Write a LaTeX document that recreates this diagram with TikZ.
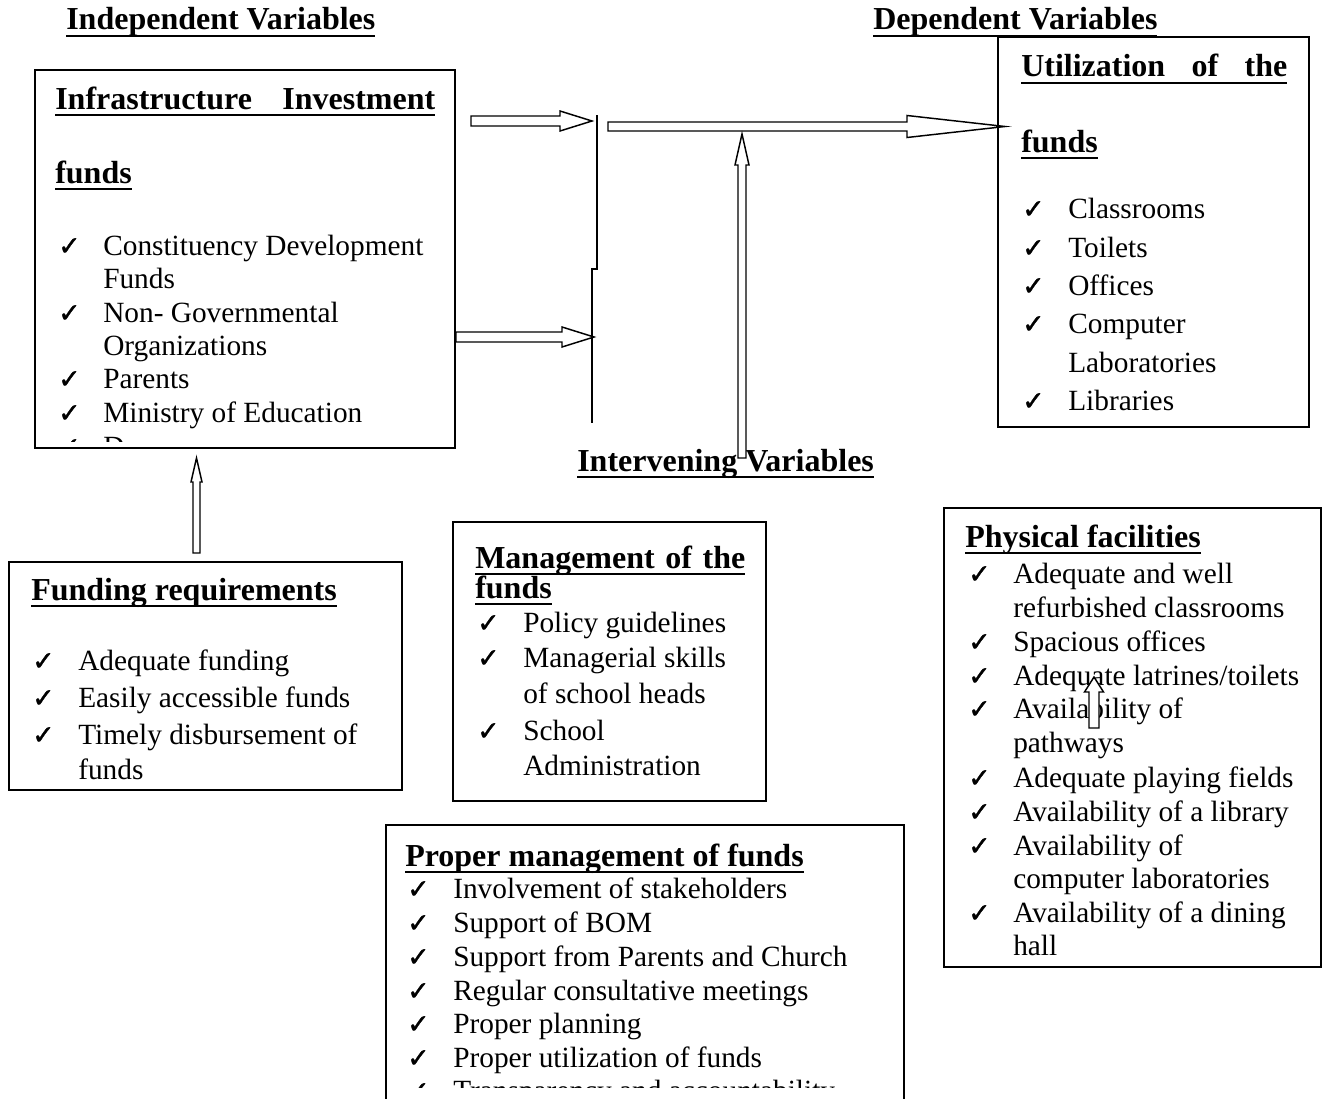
\documentclass[tikz,border=0pt]{standalone}
\usepackage{fontspec}
\setmainfont{Liberation Serif}
\newfontfamily\ckfam[FakeBold=1.5]{DejaVu Sans}
\newcommand\txfont{\fontsize{22}{26}\selectfont}
\newcommand\hdfont{\fontsize{24}{28}\selectfont\bfseries}
\newcommand\ckfont{\ckfam\fontsize{20}{20}\selectfont}
\newcommand\ulb[1]{\setbox0=\hbox{#1}\rlap{\rule[-5.6pt]{\wd0}{1.7pt}}\box0}
\newcommand\ckat[3]{\node[ck] (#1) at (#2,#3) {✓};}
% right block arrow: x1, x2, y, shaft half, head half, head length
\newcommand\rarr[6]{\draw[blk] (#1,#3-#4) -- (#2-#6,#3-#4) -- (#2-#6,#3-#5) -- (#2,#3) -- (#2-#6,#3+#5) -- (#2-#6,#3+#4) -- (#1,#3+#4) -- cycle;}
% up block arrow: x, ybottom, ytip, shaft half, head half, head length
\newcommand\uarr[6]{\draw[blk] (#1-#4,#2) -- (#1-#4,#3+#6) -- (#1-#5,#3+#6) -- (#1,#3) -- (#1+#5,#3+#6) -- (#1+#4,#3+#6) -- (#1+#4,#2) -- cycle;}
\tikzset{
  box/.style={draw, line width=1.3pt},
  hd/.style={anchor=base west, inner sep=0pt, font=\hdfont},
  tx/.style={anchor=base west, inner sep=0pt, font=\txfont},
  ck/.style={anchor=base west, inner sep=0pt, font=\ckfont},
  blk/.style={draw, fill=white, line width=1.1pt, line join=miter},
  vline/.style={draw, line width=1.1pt}
}
\begin{document}
\begin{tikzpicture}[x={(0.75pt,0)}, y={(0,-0.75pt)}]
\useasboundingbox (0,0) rectangle (1324,1099);
\fill[white] (0,0) rectangle (1324,1099);

% headings
\node[hd] (hind) at (66,30) {\ulb{Independent Variables}};
\node[hd] (hdep) at (873,30) {\ulb{Dependent Variables}};
\node[hd] (hint) at (577,471) {\ulb{Intervening Variables}};

% Box 1: Infrastructure Investment funds
\draw[box] (35,70) rectangle (455,448);
\node[hd] (b1t1) at (55,109) {\ulb{\makebox[285pt][s]{Infrastructure Investment}}};
\node[hd] (b1t2) at (55,183) {\ulb{funds}};
\ckat{b1c1}{58}{255}
\node[tx] (b1i1) at (103,255) {Constituency Development};
\node[tx] (b1i1b) at (103,288) {Funds};
\ckat{b1c2}{58}{322}
\node[tx] (b1i2) at (103,322) {Non- Governmental};
\node[tx] (b1i2b) at (103,355) {Organizations};
\ckat{b1c3}{58}{388}
\node[tx] (b1i3) at (103,388) {Parents};
\ckat{b1c4}{58}{422}
\node[tx] (b1i4) at (103,422) {Ministry of Education};
\begin{scope}
  \clip (35,70) rectangle (455,441);
  \ckat{b1c5}{58}{456}
  \node[tx] (b1i5) at (103,456) {Donors};
\end{scope}

% Box 2: Utilization of the funds
\draw[box] (998,37) rectangle (1309,427);
\node[hd] (b2t1) at (1021,77) {\ulb{\makebox[199.5pt][s]{Utilization of the}}};
\node[hd] (b2t2) at (1021,152) {\ulb{funds}};
\ckat{b2c1}{1022}{218}
\node[tx] (b2i1) at (1068,218) {Classrooms};
\ckat{b2c2}{1022}{257}
\node[tx] (b2i2) at (1068,257) {Toilets};
\ckat{b2c3}{1022}{295}
\node[tx] (b2i3) at (1068,295) {Offices};
\ckat{b2c4}{1022}{333}
\node[tx] (b2i4) at (1068,333) {Computer};
\node[tx] (b2i4b) at (1068,372) {Laboratories};
\ckat{b2c5}{1022}{410}
\node[tx] (b2i5) at (1068,410) {Libraries};

% Funding requirements
\draw[box] (9,562) rectangle (402,790);
\node[hd] (b3t) at (31,600) {\ulb{Funding requirements}};
\ckat{b3c1}{32}{670}
\node[tx] (b3i1) at (78,670) {Adequate funding};
\ckat{b3c2}{32}{707}
\node[tx] (b3i2) at (78,707) {Easily accessible funds};
\ckat{b3c3}{32}{744}
\node[tx] (b3i3) at (78,744) {Timely disbursement of};
\node[tx] (b3i3b) at (78,779) {funds};

% Management of the funds
\draw[box] (453,522) rectangle (766,801);
\node[hd] (b4t1) at (475,568) {\ulb{\makebox[202.5pt][s]{Management of the}}};
\node[hd] (b4t2) at (475,598) {\ulb{funds}};
\ckat{b4c1}{477}{632}
\node[tx] (b4i1) at (523,632) {Policy guidelines};
\ckat{b4c2}{477}{667}
\node[tx] (b4i2) at (523,667) {Managerial skills};
\node[tx] (b4i2b) at (523,703) {of school heads};
\ckat{b4c3}{477}{740}
\node[tx] (b4i3) at (523,740) {School};
\node[tx] (b4i3b) at (523,775) {Administration};

% Physical facilities
\draw[box] (944,508) rectangle (1321,967);
\node[hd] (b5t) at (965,547) {\ulb{Physical facilities}};
\ckat{b5c1}{968}{583}
\node[tx] (b5i1) at (1013,583) {Adequate and well};
\node[tx] (b5i1b) at (1013,617) {refurbished classrooms};
\ckat{b5c2}{968}{651}
\node[tx] (b5i2) at (1013,651) {Spacious offices};
\ckat{b5c3}{968}{685}
\node[tx] (b5i3) at (1013,685) {Adequate latrines/toilets};
\ckat{b5c4}{968}{718}
\node[tx] (b5i4) at (1013,718) {Availability of};
\node[tx] (b5i4b) at (1013,752) {pathways};
\ckat{b5c5}{968}{787}
\node[tx] (b5i5) at (1013,787) {Adequate playing fields};
\ckat{b5c6}{968}{821}
\node[tx] (b5i6) at (1013,821) {Availability of a library};
\ckat{b5c7}{968}{855}
\node[tx] (b5i7) at (1013,855) {Availability of};
\node[tx] (b5i7b) at (1013,888) {computer laboratories};
\ckat{b5c8}{968}{922}
\node[tx] (b5i8) at (1013,922) {Availability of a dining};
\node[tx] (b5i8b) at (1013,955) {hall};

% Proper management of funds
\draw[box] (386,1099) -- (386,825) -- (904,825) -- (904,1099);
\node[hd] (b6t) at (405,866) {\ulb{Proper management of funds}};
\ckat{b6c1}{407}{898}
\node[tx] (b6i1) at (453,898) {Involvement of stakeholders};
\ckat{b6c2}{407}{932}
\node[tx] (b6i2) at (453,932) {Support of BOM};
\ckat{b6c3}{407}{966}
\node[tx] (b6i3) at (453,966) {Support from Parents and Church};
\ckat{b6c4}{407}{1000}
\node[tx] (b6i4) at (453,1000) {Regular consultative meetings};
\ckat{b6c5}{407}{1033}
\node[tx] (b6i5) at (453,1033) {Proper planning};
\ckat{b6c6}{407}{1067}
\node[tx] (b6i6) at (453,1067) {Proper utilization of funds};
\begin{scope}
  \clip (386,825) rectangle (904,1087);
  \ckat{b6c7}{407}{1100}
  \node[tx] (b6i7) at (453,1100) {Transparency and accountability};
\end{scope}

% connector line and block arrows
\draw[vline] (597,115) -- (597,269) -- (592,269) -- (592,423);
\rarr{471}{592}{121}{5}{10}{32}
\rarr{456}{594}{337}{5}{10}{32}
\rarr{608}{1005}{126.5}{4.5}{11}{98}
\uarr{742}{458}{134}{4}{7}{31}
\uarr{196.5}{553}{458}{3.5}{5.5}{24}
\uarr{1094}{728}{677}{5}{9.5}{15}
\end{tikzpicture}
\end{document}
